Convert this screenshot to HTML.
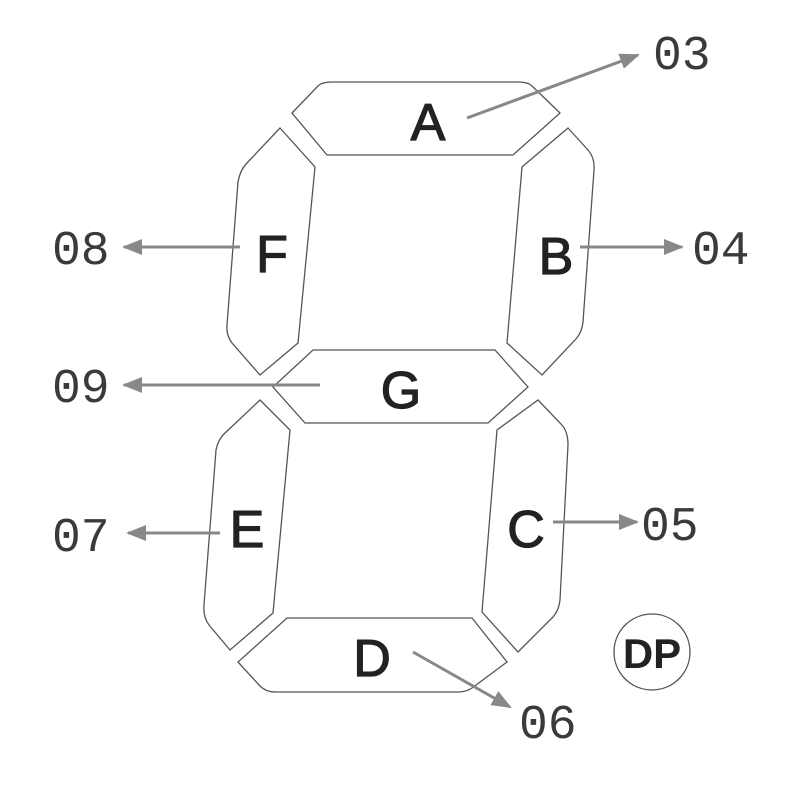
<!DOCTYPE html>
<html><head><meta charset="utf-8"><style>
html,body{margin:0;padding:0;background:#fff;}
svg{display:block;}
.s{fill:#fff;stroke:#555;stroke-width:1.3;}
.l{font-family:"Liberation Sans",sans-serif;font-size:52px;fill:#222;stroke:#222;stroke-width:1.2;text-anchor:middle;}
.n{font-family:"Liberation Mono",monospace;font-size:48px;fill:#3a3a3a;}
.a{stroke:#888;stroke-width:3;fill:none;}
</style></head><body>
<svg width="807" height="798" viewBox="0 0 807 798" xmlns="http://www.w3.org/2000/svg">
<defs><marker id="mm" markerWidth="20" markerHeight="16" refX="18" refY="8" orient="auto" markerUnits="userSpaceOnUse"><path d="M0,0 L20,8 L0,16 Z" fill="#888"/></marker></defs>
<path class="s" d="M292 113 L318 86 Q322 82 332 82 L518 82 Q528 82 532 86 L560 113 L513 155 L327 155 Z"/>
<path class="s" d="M280 128 L315 167 L298 343 L260 375 L232 343 Q226 335 227 325 L238 182 Q240 170 247 163 Z"/>
<path class="s" d="M568 128 L588 150 Q595 158 594 170 L583 322 Q582 332 576 339 L542 375 L507 343 L522 167 Z"/>
<path class="s" d="M313 350 L495 350 L528 387 L488 423 L305 423 L273 387 Z"/>
<path class="s" d="M260 400 L290 430 L273 613 L230 650 L209 625 Q203 617 204 605 L216 450 Q218 440 224 434 Z"/>
<path class="s" d="M538 400 L562 425 Q568 432 568 445 L560 600 Q559 610 553 617 L518 652 L482 612 L497 430 Z"/>
<path class="s" d="M287 618 L472 618 L507 662 L472 688 Q466 692 458 692 L275 692 Q266 692 260 686 L238 662 Z"/>
<text class="l" x="428" y="140">A</text>
<text class="l" x="272" y="272">F</text>
<text class="l" x="556" y="274">B</text>
<text class="l" x="401" y="408">G</text>
<text class="l" x="247" y="547">E</text>
<text class="l" x="526" y="547">C</text>
<text class="l" x="372" y="676">D</text>
<line class="a" x1="467" y1="118" x2="638" y2="55" marker-end="url(#mm)"/>
<line class="a" x1="580" y1="247" x2="682" y2="247" marker-end="url(#mm)"/>
<line class="a" x1="240" y1="247" x2="124" y2="247" marker-end="url(#mm)"/>
<line class="a" x1="320" y1="385" x2="124" y2="385" marker-end="url(#mm)"/>
<line class="a" x1="220" y1="533" x2="128" y2="533" marker-end="url(#mm)"/>
<line class="a" x1="553" y1="522" x2="637" y2="522" marker-end="url(#mm)"/>
<line class="a" x1="413" y1="652" x2="510" y2="707" marker-end="url(#mm)"/>
<text class="n" x="653" y="69">03</text>
<text class="n" x="692" y="264">04</text>
<text class="n" x="52" y="264">08</text>
<text class="n" x="52" y="402">09</text>
<text class="n" x="52" y="551">07</text>
<text class="n" x="641" y="540">05</text>
<text class="n" x="519" y="738">06</text>
<circle cx="652" cy="652" r="38" fill="#fff" stroke="#555" stroke-width="1.3"/>
<text x="652" y="668" font-family="Liberation Sans,sans-serif" font-size="42" font-weight="bold" fill="#222" text-anchor="middle">DP</text>
</svg>
</body></html>
